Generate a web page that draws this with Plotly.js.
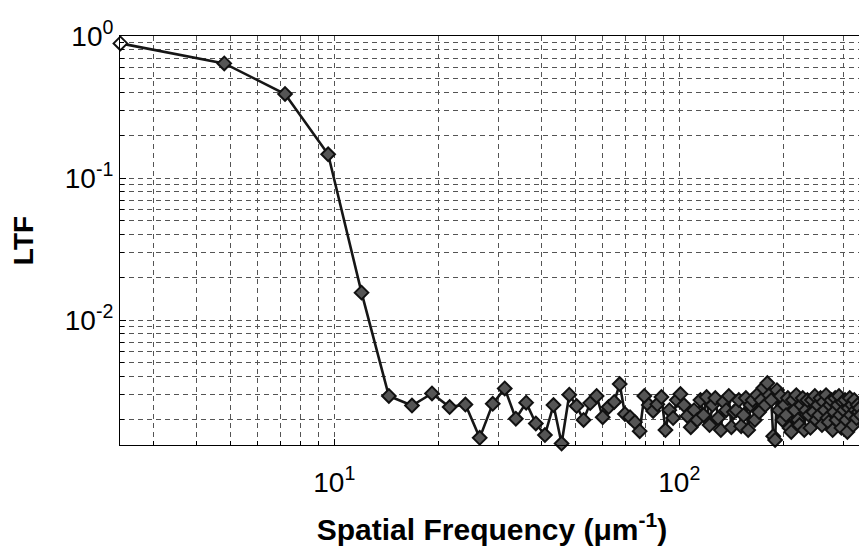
<!DOCTYPE html>
<html>
<head>
<meta charset="utf-8">
<script src="https://cdn.plot.ly/plotly-3.0.1.min.js"></script>
<style>
  html, body { margin: 0; padding: 0; background: #fff; overflow: hidden; }
  #chart { width: 864px; height: 549px; }
</style>
</head>
<body>
<div id="chart"></div>
<script>
// Spatial frequency (µm^-1)
const frequency = [
  2.4, 4.8, 7.2, 9.6, 12, 14.4, 16.8, 19.2, 21.6, 24,
  26.4, 28.8, 31.2, 33.6, 36, 38.4, 40.8, 43.2, 45.6, 48,
  50.4, 52.8, 55.2, 57.6, 60, 62.4, 64.8, 67.2, 69.6, 72,
  74.4, 76.8, 79.2, 81.6, 84, 86.4, 88.8, 91.2, 93.6, 96,
  98.4, 100.8, 103.2, 105.6, 108, 110.4, 112.8, 115.2, 117.6, 120,
  122.4, 124.8, 127.2, 129.6, 132, 134.4, 136.8, 139.2, 141.6, 144,
  146.4, 148.8, 151.2, 153.6, 156, 158.4, 160.8, 163.2, 165.6, 168,
  170.4, 172.8, 175.2, 177.6, 180, 182.4, 184.8, 187.2, 189.6, 192,
  194.4, 196.8, 199.2, 201.6, 204, 206.4, 208.8, 211.2, 213.6, 216,
  218.4, 220.8, 223.2, 225.6, 228, 230.4, 232.8, 235.2, 237.6, 240,
  242.4, 244.8, 247.2, 249.6, 252, 254.4, 256.8, 259.2, 261.6, 264,
  266.4, 268.8, 271.2, 273.6, 276, 278.4, 280.8, 283.2, 285.6, 288,
  290.4, 292.8, 295.2, 297.6, 300, 302.4, 304.8, 307.2, 309.6, 312,
  314.4, 316.8, 319.2, 321.6, 324, 326.4, 328.8, 331.2, 333.6, 336
];

// LTF values
const ltf = [
  0.888, 0.642, 0.391, 0.147, 0.0156, 0.00292, 0.00250, 0.00304, 0.00244, 0.00254,
  0.00148, 0.00257, 0.00330, 0.00202, 0.00262, 0.00187, 0.00155, 0.00252, 0.00135, 0.00298,
  0.00248, 0.00198, 0.00260, 0.00292, 0.00207, 0.00244, 0.00265, 0.00354, 0.00218, 0.00207,
  0.00191, 0.00165, 0.00292, 0.00252, 0.00229, 0.00255, 0.00287, 0.00168, 0.00232, 0.00204,
  0.00273, 0.00301, 0.00252, 0.00211, 0.00176, 0.00232, 0.00198, 0.00273, 0.00214, 0.00287,
  0.00182, 0.00252, 0.00282, 0.00204, 0.00168, 0.00265, 0.00232, 0.00292, 0.00176, 0.00225,
  0.00232, 0.00273, 0.00179, 0.00214, 0.00282, 0.00168, 0.00252, 0.00273, 0.00198, 0.00296,
  0.00225, 0.00273, 0.00332, 0.00252, 0.00360, 0.00296, 0.00273, 0.00152, 0.00143, 0.00321,
  0.00232, 0.00292, 0.00198, 0.00252, 0.00214, 0.00282, 0.00174, 0.00163, 0.00273, 0.00232,
  0.00296, 0.00198, 0.00182, 0.00252, 0.00282, 0.00168, 0.00232, 0.00273, 0.00214, 0.00174,
  0.00273, 0.00225, 0.00292, 0.00198, 0.00252, 0.00214, 0.00282, 0.00182, 0.00265, 0.00232,
  0.00296, 0.00204, 0.00191, 0.00252, 0.00273, 0.00168, 0.00225, 0.00282, 0.00198, 0.00252,
  0.00292, 0.00214, 0.00174, 0.00265, 0.00232, 0.00273, 0.00198, 0.00163, 0.00240, 0.00282,
  0.00214, 0.00252, 0.00182, 0.00273, 0.00232, 0.00204, 0.00252, 0.00225, 0.00240, 0.00214
];

// Tick labels
const xTickVals = [10, 100];
const xTickText = ['10<sup>1</sup>', '10<sup>2</sup>'];
const yTickVals = [0.01, 0.1, 1];
const yTickText = ['10<sup>-2</sup>', '10<sup>-1</sup>', '10<sup>0</sup>'];
const xMinorVals = [3, 4, 5, 6, 7, 8, 9, 20, 30, 40, 50, 60, 70, 80, 90, 200, 300];
const yMinorVals = [0.002, 0.003, 0.004, 0.005, 0.006, 0.007, 0.008, 0.009,
                    0.02, 0.03, 0.04, 0.05, 0.06, 0.07, 0.08, 0.09,
                    0.2, 0.3, 0.4, 0.5, 0.6, 0.7, 0.8, 0.9];

const markerFill = ltf.map((v, i) => i === 0 ? '#ffffff' : '#555555');

const FONT = 'Liberation Sans, Arial, Helvetica, sans-serif';
const gridDash = '5px,4px';
const gridColor = '#555555';

const trace = {
  x: frequency,
  y: ltf,
  type: 'scatter',
  mode: 'lines+markers',
  cliponaxis: false,
  line: { color: '#161616', width: 2.6 },
  marker: { symbol: 'diamond', size: 10.5, color: markerFill, line: { color: '#111', width: 2 } },
  showlegend: false
};

const layout = {
  width: 864,
  height: 549,
  margin: { l: 120, r: 0, t: 36, b: 104 },
  paper_bgcolor: '#fff',
  plot_bgcolor: '#fff',
  font: { family: FONT, color: '#000' },
  xaxis: {
    type: 'log',
    range: [0.3790, 2.5355],
    tickmode: 'array',
    tickvals: xTickVals,
    ticktext: xTickText,
    tickfont: { size: 28, family: FONT, color: '#000' },
    ticks: 'inside', ticklen: 6, tickcolor: '#000',
    ticklabelstandoff: 12,
    showgrid: true, gridcolor: gridColor, griddash: gridDash, gridwidth: 1,
    minor: { tickmode: 'array', tickvals: xMinorVals, showgrid: true, gridcolor: gridColor,
             griddash: gridDash, gridwidth: 1, ticks: 'inside', ticklen: 4, tickcolor: '#000' },
    showline: true, linecolor: '#000', linewidth: 1, mirror: true,
    zeroline: false,
    title: { text: '<b>Spatial Frequency (μm<sup>-1</sup>)</b>', font: { size: 30, family: FONT, color: '#000' }, standoff: 22 }
  },
  yaxis: {
    type: 'log',
    range: [-2.880, 0.0005],
    tickmode: 'array',
    tickvals: yTickVals,
    ticktext: yTickText,
    tickfont: { size: 28, family: FONT, color: '#000' },
    ticks: 'inside', ticklen: 6, tickcolor: '#000',
    showgrid: true, gridcolor: gridColor, griddash: gridDash, gridwidth: 1,
    minor: { tickmode: 'array', tickvals: yMinorVals, showgrid: true, gridcolor: gridColor,
             griddash: gridDash, gridwidth: 1, ticks: 'inside', ticklen: 4, tickcolor: '#000' },
    showline: true, linecolor: '#000', linewidth: 1, mirror: true,
    zeroline: false,
    title: { text: '<b>LTF</b>', font: { size: 28, family: FONT, color: '#000' }, standoff: 23 }
  }
};

Plotly.newPlot('chart', [trace], layout, { displayModeBar: false, staticPlot: true });
</script>
</body>
</html>
